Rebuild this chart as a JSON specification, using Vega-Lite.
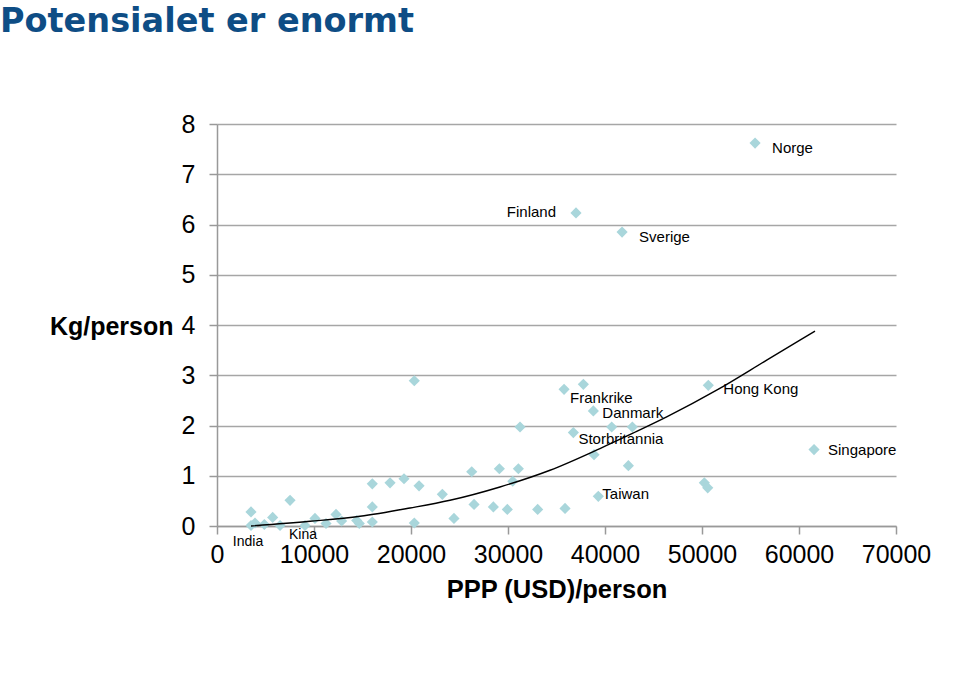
{
  "$schema": "https://vega.github.io/schema/vega-lite/v6.json",
  "width": 679,
  "height": 402,
  "autosize": "none",
  "padding": {"left": 217, "top": 124, "right": 64, "bottom": 156},
  "background": "white",
  "title": {
    "text": "Potensialet er enormt",
    "anchor": "start",
    "frame": "group",
    "font": "DejaVu Sans",
    "fontSize": 33.5,
    "fontWeight": "bold",
    "color": "#0e4d85",
    "dx": -217,
    "offset": 73
  },
  "config": {
    "view": {"stroke": null},
    "axis": {"labelFont": "Liberation Sans", "titleFont": "Liberation Sans", "labelColor": "#000", "titleColor": "#000"}
  },
  "datasets": {
    "pts": [
      {"ppp": 3505, "kg": 0.01, "land": "India"},
      {"ppp": 3505, "kg": 0.28, "land": ""},
      {"ppp": 3918, "kg": 0.06, "land": ""},
      {"ppp": 4880, "kg": 0.03, "land": ""},
      {"ppp": 5740, "kg": 0.17, "land": ""},
      {"ppp": 6500, "kg": 0.01, "land": ""},
      {"ppp": 7530, "kg": 0.51, "land": ""},
      {"ppp": 9070, "kg": 0.01, "land": "Kina"},
      {"ppp": 10100, "kg": 0.15, "land": ""},
      {"ppp": 11240, "kg": 0.05, "land": ""},
      {"ppp": 12270, "kg": 0.23, "land": ""},
      {"ppp": 12850, "kg": 0.10, "land": ""},
      {"ppp": 14400, "kg": 0.11, "land": ""},
      {"ppp": 14670, "kg": 0.05, "land": ""},
      {"ppp": 16010, "kg": 0.84, "land": ""},
      {"ppp": 16010, "kg": 0.38, "land": ""},
      {"ppp": 16010, "kg": 0.08, "land": ""},
      {"ppp": 17840, "kg": 0.86, "land": ""},
      {"ppp": 19280, "kg": 0.94, "land": ""},
      {"ppp": 20340, "kg": 2.89, "land": ""},
      {"ppp": 20340, "kg": 0.06, "land": ""},
      {"ppp": 20830, "kg": 0.80, "land": ""},
      {"ppp": 23230, "kg": 0.63, "land": ""},
      {"ppp": 24430, "kg": 0.15, "land": ""},
      {"ppp": 26260, "kg": 1.08, "land": ""},
      {"ppp": 26500, "kg": 0.43, "land": ""},
      {"ppp": 28490, "kg": 0.38, "land": ""},
      {"ppp": 29110, "kg": 1.14, "land": ""},
      {"ppp": 29930, "kg": 0.33, "land": ""},
      {"ppp": 30490, "kg": 0.89, "land": ""},
      {"ppp": 31070, "kg": 1.14, "land": ""},
      {"ppp": 31240, "kg": 1.97, "land": ""},
      {"ppp": 33060, "kg": 0.33, "land": ""},
      {"ppp": 35880, "kg": 0.35, "land": ""},
      {"ppp": 35780, "kg": 2.72, "land": "Frankrike"},
      {"ppp": 37770, "kg": 2.82, "land": ""},
      {"ppp": 38800, "kg": 2.29, "land": "Danmark"},
      {"ppp": 36740, "kg": 1.86, "land": "Storbritannia"},
      {"ppp": 40690, "kg": 1.97, "land": ""},
      {"ppp": 42820, "kg": 1.97, "land": ""},
      {"ppp": 38870, "kg": 1.42, "land": ""},
      {"ppp": 42410, "kg": 1.20, "land": ""},
      {"ppp": 39310, "kg": 0.59, "land": "Taiwan"},
      {"ppp": 50650, "kg": 2.80, "land": "Hong Kong"},
      {"ppp": 50240, "kg": 0.86, "land": ""},
      {"ppp": 50590, "kg": 0.76, "land": ""},
      {"ppp": 61550, "kg": 1.52, "land": "Singapore"},
      {"ppp": 55470, "kg": 7.62, "land": "Norge"},
      {"ppp": 37010, "kg": 6.23, "land": "Finland"},
      {"ppp": 41760, "kg": 5.85, "land": "Sverige"}
    ],
    "trend": [
      {"ppp": 3505, "kg": 0.0},
      {"ppp": 9590, "kg": 0.094},
      {"ppp": 14740, "kg": 0.193},
      {"ppp": 19900, "kg": 0.359},
      {"ppp": 24020, "kg": 0.512},
      {"ppp": 29170, "kg": 0.777},
      {"ppp": 34330, "kg": 1.11},
      {"ppp": 39480, "kg": 1.542},
      {"ppp": 42880, "kg": 1.847},
      {"ppp": 46360, "kg": 2.171},
      {"ppp": 51510, "kg": 2.703},
      {"ppp": 56670, "kg": 3.301},
      {"ppp": 61650, "kg": 3.878}
    ]
  },
  "encoding": {
    "x": {
      "field": "ppp", "type": "quantitative",
      "scale": {"domain": [0, 70000], "nice": false},
      "axis": {
        "values": [0, 10000, 20000, 30000, 40000, 50000, 60000, 70000],
        "format": "d", "grid": false,
        "domainColor": "#999999", "domainWidth": 1.5,
        "tickColor": "#999999", "tickSize": 8, "tickWidth": 1.5,
        "labelFontSize": 25, "labelPadding": 8, "labelFlush": false,
        "title": "PPP (USD)/person", "titleFontSize": 25.5, "titleFontWeight": "bold", "titlePadding": 10
      }
    },
    "y": {
      "field": "kg", "type": "quantitative",
      "scale": {"domain": [0, 8], "nice": false},
      "axis": {
        "values": [0, 1, 2, 3, 4, 5, 6, 7, 8],
        "grid": true, "gridColor": "#a6a6a6", "gridWidth": 1.5,
        "domainColor": "#999999", "domainWidth": 1.5,
        "tickColor": "#999999", "tickSize": 8, "tickWidth": 1.5,
        "labelFontSize": 25, "labelPadding": 14, "labelFlush": false,
        "title": "Kg/person", "titleAngle": 0, "titleAlign": "right", "titleBaseline": "middle",
        "titleX": -44, "titleY": 202, "titleFontSize": 25, "titleFontWeight": "bold"
      }
    }
  },
  "layer": [
    {
      "data": {"name": "pts"},
      "mark": {"type": "point", "shape": "diamond", "filled": true, "size": 125, "color": "#a9d6db", "opacity": 1}
    },
    {
      "data": {"name": "trend"},
      "mark": {"type": "line", "color": "#000000", "strokeWidth": 1.4, "interpolate": "monotone"}
    },
    {
      "data": {"name": "pts"},
      "transform": [{"filter": "datum.land == 'Norge' || datum.land == 'Sverige'"}],
      "mark": {"type": "text", "align": "left", "baseline": "middle", "dx": 17, "dy": 5, "font": "Liberation Sans", "fontSize": 15, "color": "#000"},
      "encoding": {"text": {"field": "land"}}
    },
    {
      "data": {"name": "pts"},
      "transform": [{"filter": "datum.land == 'Finland'"}],
      "mark": {"type": "text", "align": "right", "baseline": "middle", "dx": -20, "dy": -1, "font": "Liberation Sans", "fontSize": 15, "color": "#000"},
      "encoding": {"text": {"field": "land"}}
    },
    {
      "data": {"name": "pts"},
      "transform": [{"filter": "datum.land == 'Frankrike'"}],
      "mark": {"type": "text", "align": "left", "baseline": "middle", "dx": 6, "dy": 9, "font": "Liberation Sans", "fontSize": 15, "color": "#000"},
      "encoding": {"text": {"field": "land"}}
    },
    {
      "data": {"name": "pts"},
      "transform": [{"filter": "datum.land == 'Danmark'"}],
      "mark": {"type": "text", "align": "left", "baseline": "middle", "dx": 9, "dy": 2, "font": "Liberation Sans", "fontSize": 15, "color": "#000"},
      "encoding": {"text": {"field": "land"}}
    },
    {
      "data": {"name": "pts"},
      "transform": [{"filter": "datum.land == 'Storbritannia'"}],
      "mark": {"type": "text", "align": "left", "baseline": "middle", "dx": 5, "dy": 6, "font": "Liberation Sans", "fontSize": 15, "color": "#000"},
      "encoding": {"text": {"field": "land"}}
    },
    {
      "data": {"name": "pts"},
      "transform": [{"filter": "datum.land == 'Hong Kong'"}],
      "mark": {"type": "text", "align": "left", "baseline": "middle", "dx": 15, "dy": 4, "font": "Liberation Sans", "fontSize": 15, "color": "#000"},
      "encoding": {"text": {"field": "land"}}
    },
    {
      "data": {"name": "pts"},
      "transform": [{"filter": "datum.land == 'Singapore'"}],
      "mark": {"type": "text", "align": "left", "baseline": "middle", "dx": 14, "dy": 0, "font": "Liberation Sans", "fontSize": 15, "color": "#000"},
      "encoding": {"text": {"field": "land"}}
    },
    {
      "data": {"name": "pts"},
      "transform": [{"filter": "datum.land == 'Taiwan'"}],
      "mark": {"type": "text", "align": "left", "baseline": "middle", "dx": 4, "dy": -2, "font": "Liberation Sans", "fontSize": 15, "color": "#000"},
      "encoding": {"text": {"field": "land"}}
    },
    {
      "data": {"name": "pts"},
      "transform": [{"filter": "datum.land == 'India'"}],
      "mark": {"type": "text", "align": "center", "baseline": "middle", "dx": -3, "dy": 17, "font": "Liberation Sans", "fontSize": 14, "color": "#000"},
      "encoding": {"text": {"field": "land"}}
    },
    {
      "data": {"name": "pts"},
      "transform": [{"filter": "datum.land == 'Kina'"}],
      "mark": {"type": "text", "align": "center", "baseline": "middle", "dx": -2, "dy": 10, "font": "Liberation Sans", "fontSize": 14, "color": "#000"},
      "encoding": {"text": {"field": "land"}}
    }
  ]
}
